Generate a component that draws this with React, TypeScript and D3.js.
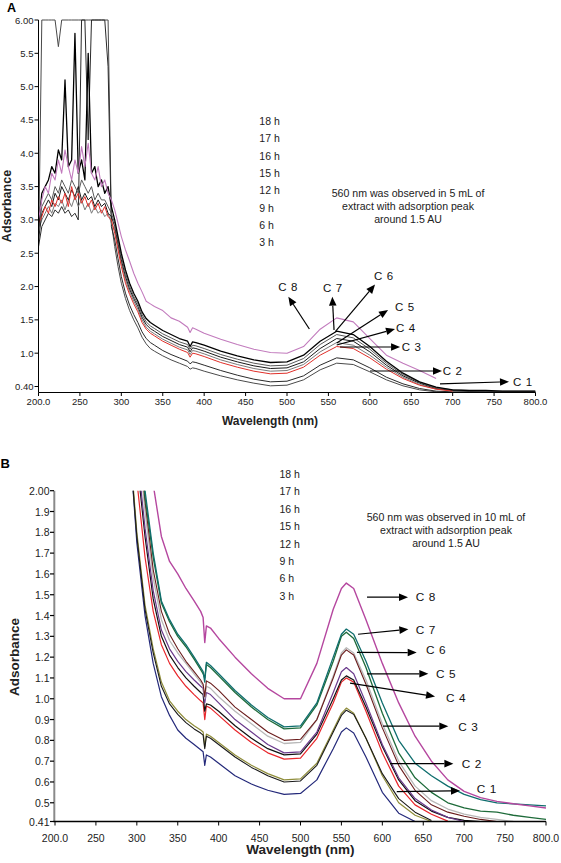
import React from 'react';
import * as d3 from 'd3';

// ---------------- Panel A data (5 mL extract) ----------------
const wavelengthsA = [200,204,208,212,216,220,224,228,232,236,240,244,248,252,256,260,264,268,272,276,280,284,288,
  292,296,300,305,310,315,320,325,330,335,340,
  350,360,370,380,383,386,390,
  400,420,440,460,480,500,520,540,560,580,600,620,640,660,680,700,720,740,760,780,800];

const c8A = [3.0,3.3,3.5,3.4,3.7,3.6,3.9,3.7,4.05,3.8,3.6,3.9,3.7,4.1,3.8,4.15,3.7,3.6,3.8,3.5,3.6,3.4,3.3,
  3.15,2.95,2.75,2.55,2.38,2.2,2.05,1.92,1.78,1.74,1.70,
  1.64,1.53,1.48,1.39,1.31,1.38,1.36,
  1.30,1.21,1.13,1.06,1.01,1.00,1.10,1.36,1.53,1.47,1.22,0.97,0.85,0.74,0.62];
const c7A = [2.9,3.4,3.5,3.6,3.8,3.7,4.05,3.9,5.1,3.8,3.9,5.8,3.7,3.9,3.6,5.5,3.7,3.8,3.5,3.6,3.4,3.5,3.2,
  3.0,2.75,2.5,2.25,2.05,1.9,1.78,1.62,1.52,1.46,1.42,
  1.34,1.28,1.22,1.18,1.10,1.17,1.16,
  1.12,1.03,0.96,0.90,0.86,0.87,0.97,1.18,1.33,1.28,1.10,0.88,0.70,0.57,0.49,0.45,0.44,0.44,0.43,0.43,0.43];
const c6A = [2.8,3.2,3.3,3.4,3.3,3.5,3.4,3.6,3.5,3.4,3.6,3.5,3.4,3.6,3.5,3.4,3.5,3.3,3.4,3.3,3.3,3.2,3.1,
  2.95,2.7,2.45,2.2,2.0,1.85,1.74,1.58,1.47,1.41,1.37,
  1.29,1.23,1.17,1.13,1.06,1.12,1.11,
  1.07,0.98,0.91,0.85,0.81,0.82,0.92,1.13,1.28,1.23,1.06,0.85,0.68,0.56,0.48,0.45,0.44,0.43,0.43,0.43,0.43];
const c5A = [2.7,3.1,3.2,3.3,3.2,3.4,3.3,3.5,3.4,3.3,3.45,3.35,3.5,3.3,3.4,3.3,3.35,3.2,3.3,3.2,3.25,3.1,3.05,
  2.9,2.65,2.4,2.15,1.96,1.82,1.7,1.54,1.43,1.37,1.33,
  1.25,1.19,1.13,1.09,1.02,1.08,1.07,
  1.03,0.94,0.87,0.81,0.77,0.78,0.87,1.07,1.22,1.18,1.02,0.82,0.66,0.55,0.47,0.44,0.43,0.43,0.42,0.42,0.42];
const c4A = [2.85,3.0,3.1,3.2,3.1,3.25,3.2,3.3,3.15,3.3,3.2,3.35,3.2,3.3,3.15,3.25,3.1,3.2,3.1,3.15,3.05,3.1,2.95,
  2.85,2.6,2.35,2.1,1.92,1.78,1.66,1.5,1.39,1.33,1.29,
  1.21,1.15,1.09,1.05,0.98,1.04,1.03,
  0.99,0.90,0.83,0.77,0.73,0.74,0.83,1.02,1.16,1.12,0.97,0.79,0.64,0.53,0.46,0.44,0.43,0.42,0.42,0.42,0.42];
const c3A = [2.95,3.05,3.2,3.1,3.3,3.2,3.35,3.25,3.4,3.2,3.5,3.3,3.4,3.25,3.35,3.2,3.3,3.15,3.25,3.1,3.2,3.05,3.0,
  2.8,2.55,2.3,2.05,1.88,1.74,1.62,1.46,1.36,1.30,1.26,
  1.18,1.12,1.06,1.01,0.94,1.0,0.99,
  0.95,0.86,0.79,0.73,0.69,0.70,0.79,0.97,1.10,1.07,0.93,0.76,0.62,0.52,0.46,0.43];
const c2A = [2.6,2.9,3.0,3.1,3.05,3.15,3.1,3.2,3.1,3.15,3.05,3.1,3.0,6.0,6.0,4.2,6.0,6.0,6.0,6.0,6.0,5.3,2.9,
  2.7,2.42,2.15,1.9,1.72,1.58,1.46,1.32,1.22,1.16,1.12,
  1.04,0.98,0.93,0.88,0.84,0.87,0.86,
  0.82,0.74,0.67,0.61,0.57,0.58,0.66,0.82,0.93,0.90,0.78,0.64,0.54,0.47,0.43,0.42,0.42,0.42,0.42,0.42,0.42];
const c1A = [2.5,6.0,6.0,6.0,6.0,6.0,5.6,6.0,6.0,6.0,6.0,6.0,6.0,6.0,6.0,6.0,6.0,6.0,6.0,6.0,6.0,6.0,2.95,
  2.6,2.3,2.05,1.82,1.64,1.5,1.38,1.24,1.14,1.07,1.03,
  0.96,0.90,0.85,0.80,0.76,0.78,0.77,
  0.73,0.66,0.60,0.55,0.51,0.52,0.60,0.75,0.85,0.83,0.72,0.60,0.51,0.45,0.42,0.41,0.41,0.41,0.41,0.41,0.41];

// ---------------- Panel B data (10 mL extract) ----------------
const wavelengthsB = [290,300,310,320,330,340,350,360,370,378,381,383,385,390,400,420,440,460,480,500,520,540,550,556,565,580,600,620,640,660,680,700,720,740,760,780,800];

const magentaB = [2.6,2.4,2.2,2.03,1.78,1.66,1.60,1.53,1.47,1.42,1.39,1.27,1.35,1.34,1.29,1.20,1.12,1.05,1.00,1.00,1.17,1.43,1.53,1.556,1.53,1.38,1.17,0.98,0.82,0.70,0.61,0.555,0.525,0.507,0.495,0.485,0.475];
const tealB = [3.0,2.5,2.0,1.70,1.47,1.38,1.31,1.26,1.20,1.15,1.13,1.08,1.175,1.16,1.12,1.04,0.97,0.91,0.865,0.87,0.98,1.20,1.31,1.335,1.31,1.18,0.98,0.80,0.69,0.63,0.58,0.54,0.515,0.50,0.495,0.49,0.485];
const greenB = [2.95,2.45,1.97,1.68,1.46,1.37,1.30,1.25,1.19,1.14,1.12,1.10,1.165,1.15,1.11,1.03,0.96,0.90,0.855,0.86,0.97,1.18,1.30,1.32,1.29,1.15,0.93,0.74,0.62,0.55,0.50,0.475,0.46,0.455,0.44,0.43,0.42];
const greyB = [2.7,2.3,1.9,1.58,1.38,1.28,1.22,1.17,1.12,1.08,1.06,1.00,1.06,1.05,1.01,0.94,0.88,0.82,0.785,0.79,0.90,1.11,1.22,1.245,1.22,1.09,0.88,0.70,0.58,0.51,0.47,0.445,0.43,0.42,0.41];
const brownB = [2.75,2.35,1.95,1.62,1.42,1.31,1.24,1.18,1.13,1.09,1.07,1.01,1.086,1.075,1.04,0.96,0.90,0.84,0.80,0.805,0.90,1.10,1.21,1.235,1.21,1.07,0.86,0.68,0.56,0.49,0.455,0.435,0.42,0.41];
const purpleB = [2.6,2.2,1.82,1.52,1.33,1.24,1.18,1.13,1.09,1.06,1.05,0.98,1.03,1.02,0.98,0.90,0.84,0.78,0.74,0.745,0.84,1.03,1.13,1.15,1.12,0.98,0.78,0.62,0.52,0.465,0.43,0.41];
const blackB = [2.55,2.15,1.78,1.48,1.30,1.21,1.15,1.10,1.06,1.03,1.02,0.94,0.975,0.97,0.94,0.87,0.81,0.76,0.73,0.735,0.83,1.00,1.09,1.11,1.09,0.96,0.77,0.61,0.51,0.46,0.43,0.415,0.41];
const redB = [2.5,2.05,1.68,1.42,1.26,1.17,1.11,1.06,1.02,0.99,0.98,0.90,0.965,0.955,0.92,0.85,0.79,0.74,0.71,0.715,0.81,0.98,1.08,1.10,1.08,0.94,0.74,0.58,0.49,0.445,0.412];
const oliveB = [2.3,1.8,1.45,1.24,1.08,0.99,0.94,0.90,0.87,0.85,0.84,0.77,0.83,0.82,0.79,0.73,0.68,0.64,0.61,0.615,0.69,0.85,0.93,0.955,0.93,0.81,0.63,0.50,0.44,0.41];
const black2B = [2.28,1.78,1.43,1.22,1.06,0.975,0.925,0.885,0.855,0.835,0.825,0.76,0.82,0.81,0.78,0.72,0.67,0.63,0.60,0.605,0.68,0.84,0.92,0.945,0.925,0.81,0.64,0.52,0.455,0.415];
const navyB = [2.3,1.75,1.40,1.17,1.01,0.92,0.85,0.81,0.78,0.755,0.745,0.68,0.73,0.72,0.69,0.63,0.59,0.56,0.54,0.545,0.61,0.76,0.84,0.86,0.835,0.72,0.55,0.45,0.41];

// ---------------- Axes / labels ----------------
const xTicks = [200,250,300,350,400,450,500,550,600,650,700,750,800];
const xTickLabels = ['200.0','250','300','350','400','450','500','550','600','650','700','750','800.0'];
const yTicksA = [0.5,1.0,1.5,2.0,2.5,3.0,3.5,4.0,4.5,5.0,5.5,6.0];
const yTickLabelsA = ['0.40','1.0','1.5','2.0','2.5','3.0','3.5','4.0','4.5','5.0','5.5','6.00'];
const yTicksB = [0.41,0.5,0.6,0.7,0.8,0.9,1.0,1.1,1.2,1.3,1.4,1.5,1.6,1.7,1.8,1.9,2.0];
const yTickLabelsB = ['0.41','0.5','0.6','0.7','0.8','0.9','1.0','1.1','1.2','1.3','1.4','1.5','1.6','1.7','1.8','1.9','2.00'];
const hourLabels = ['18 h','17 h','16 h','15 h','12 h','9 h','6 h','3 h'];
const noteA = ['560 nm was observed in 5 mL of','extract with adsorption peak','around 1.5 AU'];
const noteB = ['560 nm was observed in 10 mL of','extract with adsorption peak','around 1.5 AU'];

// arrow annotations, in data units: [tail wavelength, tail abs, head wavelength, head abs, text wavelength, text abs]
const arrowsA: [string, number[]][] = [
  ['C 8', [527, 1.363, 501.6, 1.848, 489.5, 1.989]],
  ['C 7', [556.8, 1.348, 554.7, 1.848, 543.5, 1.983]],
  ['C 6', [558.3, 1.322, 606.3, 2.03, 605, 2.158]],
  ['C 5', [560, 1.153, 622, 1.648, 630.4, 1.688]],
  ['C 4', [560, 1.123, 630.4, 1.363, 631.6, 1.382]],
  ['C 3', [564, 1.093, 636.5, 1.093, 638.5, 1.097]],
  ['C 2', [600.2, 0.733, 687.1, 0.733, 688, 0.737]],
  ['C 1', [684.7, 0.538, 768, 0.572, 772.9, 0.572]],
];
const arrowsB: [string, number[]][] = [
  ['C 8', [581.3, 1.488, 631.4, 1.488, 640.8, 1.488]],
  ['C 7', [570.3, 1.31, 631.8, 1.334, 640.8, 1.329]],
  ['C 6', [569, 1.223, 642, 1.222, 653.4, 1.233]],
  ['C 5', [581.3, 1.12, 656.2, 1.12, 665.6, 1.12]],
  ['C 4', [560.5, 1.075, 664.4, 1.011, 677.8, 1.005]],
  ['C 3', [600.8, 0.868, 680.6, 0.868, 692.8, 0.864]],
  ['C 2', [609.4, 0.688, 686.8, 0.688, 697, 0.688]],
  ['C 1', [617.6, 0.554, 694.9, 0.558, 715.3, 0.567]],
];

const FONT = "'Liberation Sans', Arial, Helvetica, sans-serif";

type Scale = d3.ScaleLinear<number, number>;

function Arrow({ x, y, a, label, fs }: { x: Scale; y: Scale; a: number[]; label: string; fs: number }) {
  const x1 = x(a[0]), y1 = y(a[1]), x2 = x(a[2]), y2 = y(a[3]);
  const dx = x2 - x1, dy = y2 - y1;
  const len = Math.hypot(dx, dy);
  const ux = dx / len, uy = dy / len;
  const L = 9, hw = 3.8;
  const bx = x2 - ux * L, by = y2 - uy * L;
  const pts = [[x2, y2], [bx - uy * hw, by + ux * hw], [bx + uy * hw, by - ux * hw]];
  return (
    <g>
      <line x1={x1} y1={y1} x2={bx} y2={by} stroke="#000" strokeWidth={1.2} />
      <polygon points={pts.map(p => p.join(',')).join(' ')} fill="#000" />
      <text x={x(a[4])} y={y(a[5])} fontSize={fs} dominantBaseline="central" fontFamily={FONT} fill="#111" letterSpacing={0.6}>{label}</text>
    </g>
  );
}

export default function App() {
  // Panel A scales
  const xA = d3.scaleLinear().domain([200, 800]).range([38.5, 535.5]);
  const yA = d3.scaleLinear().domain([0.41, 6.0]).range([392.5, 20]);
  // Panel B scales
  const xB = d3.scaleLinear().domain([200, 800]).range([55, 546]);
  const yB = d3.scaleLinear().domain([0.41, 2.0]).range([821.5, 490.7]);

  const mk = (x: Scale, y: Scale) => d3.line<[number, number]>().x(d => x(d[0])).y(d => y(d[1]));
  const lineA = mk(xA, yA);
  const lineB = mk(xB, yB);
  const zip = (wl: number[], vals: number[]) => vals.map((v, i) => [wl[i], v] as [number, number]);

  const seriesA = [
    { v: c1A, c: '#4a4a4a', w: 1 },
    { v: c2A, c: '#2a2a2a', w: 1 },
    { v: c4A, c: '#7a7a7a', w: 1 },
    { v: c5A, c: '#1a1a1a', w: 1 },
    { v: c6A, c: '#5a5a5a', w: 1 },
    { v: c3A, c: '#e0302a', w: 1 },
    { v: c7A, c: '#000000', w: 1.3 },
    { v: c8A, c: '#c27bbd', w: 1.1 },
  ];
  const seriesB = [
    { v: navyB, c: '#24297a', w: 1.2 },
    { v: oliveB, c: '#8f8d3a', w: 1.2 },
    { v: black2B, c: '#1a1a1a', w: 1.1 },
    { v: redB, c: '#e8262b', w: 1.2 },
    { v: blackB, c: '#111111', w: 1.2 },
    { v: purpleB, c: '#6b3a8c', w: 1.2 },
    { v: greyB, c: '#b8b8b8', w: 1.3 },
    { v: brownB, c: '#6a1c1c', w: 1.1 },
    { v: greenB, c: '#1e6b3a', w: 1.3 },
    { v: tealB, c: '#0f6e6e', w: 1.3 },
    { v: magentaB, c: '#b5479f', w: 1.4 },
  ];

  return (
    <svg width={561} height={863} style={{ position: 'absolute', left: 0, top: 0, background: '#fff' }} fontFamily={FONT}>
      <defs>
        <clipPath id="clipA"><rect x={38.5} y={18.5} width={497} height={374.5} /></clipPath>
        <clipPath id="clipB"><rect x={55} y={490.7} width={491} height={331} /></clipPath>
      </defs>
      <rect x={0} y={0} width={561} height={863} fill="#fff" />

      {/* ===== Panel A ===== */}
      <text x={7} y={12} fontSize={12.5} fontWeight="bold">A</text>
      <g clipPath="url(#clipA)" fill="none">
        {seriesA.map((s, i) => (
          <path key={i} d={lineA(zip(wavelengthsA, s.v)) || ''} stroke={s.c} strokeWidth={s.w} strokeLinejoin="round" />
        ))}
      </g>
      <line x1={xA(200)} y1={yA(6.0)} x2={xA(200)} y2={yA(0.41)} stroke="#000" strokeWidth={1} />
      <line x1={xA(200)} y1={yA(0.41)} x2={xA(800)} y2={yA(0.41)} stroke="#000" strokeWidth={1.2} />
      {yTicksA.map((t, i) => (
        <g key={i}>
          <line x1={xA(200) - 4} x2={xA(200)} y1={yA(t)} y2={yA(t)} stroke="#000" />
          <text x={xA(200) - 5} y={yA(t)} fontSize={9.5} textAnchor="end" dominantBaseline="central" fill="#222">{yTickLabelsA[i]}</text>
        </g>
      ))}
      {xTicks.map((t, i) => (
        <g key={i}>
          <line x1={xA(t)} x2={xA(t)} y1={yA(0.41)} y2={yA(0.41) + 3.5} stroke="#000" />
          <text x={xA(t)} y={401} fontSize={9.5} textAnchor="middle" dominantBaseline="central" fill="#222">{xTickLabels[i]}</text>
        </g>
      ))}
      <text x={270} y={425} fontSize={12} fontWeight="bold" textAnchor="middle" fill="#222">Wavelength (nm)</text>
      <text transform="translate(10.5,206) rotate(-90)" fontSize={12.5} fontWeight="bold" textAnchor="middle" fill="#222">Adsorbance</text>
      {hourLabels.map((h, i) => (
        <text key={i} x={259.3} y={121 + i * 17.3} fontSize={10.5} dominantBaseline="central" fill="#222">{h}</text>
      ))}
      {noteA.map((t, i) => (
        <text key={i} x={408} y={192.7 + i * 13.2} fontSize={10.6} textAnchor="middle" dominantBaseline="central" fill="#222">{t}</text>
      ))}
      {arrowsA.map(([lab, a]) => <Arrow key={lab} x={xA} y={yA} a={a} label={lab} fs={11.5} />)}

      {/* ===== Panel B ===== */}
      <text x={0.5} y={468.3} fontSize={13} fontWeight="bold">B</text>
      <g clipPath="url(#clipB)" fill="none">
        {seriesB.map((s, i) => (
          <path key={i} d={lineB(zip(wavelengthsB, s.v)) || ''} stroke={s.c} strokeWidth={s.w} strokeLinejoin="round" />
        ))}
      </g>
      <line x1={54.3} y1={yB(2.0)} x2={54.3} y2={yB(0.41)} stroke="#8a8a8a" strokeWidth={2} />
      <line x1={53.5} y1={yB(0.41)} x2={xB(800)} y2={yB(0.41)} stroke="#000" strokeWidth={1.3} />
      {yTicksB.map((t, i) => (
        <g key={i}>
          <line x1={50} x2={54} y1={yB(t)} y2={yB(t)} stroke="#000" strokeWidth={1.2} />
          <text x={49.5} y={yB(t)} fontSize={10.5} textAnchor="end" dominantBaseline="central" fill="#222">{yTickLabelsB[i]}</text>
        </g>
      ))}
      {xTicks.map((t, i) => (
        <g key={i}>
          <line x1={xB(t)} x2={xB(t)} y1={yB(0.41)} y2={yB(0.41) + 4} stroke="#000" />
          <text x={xB(t)} y={837.6} fontSize={10.5} textAnchor="middle" dominantBaseline="central" fill="#222">{xTickLabels[i]}</text>
        </g>
      ))}
      <text x={300.5} y={854} fontSize={13.5} fontWeight="bold" textAnchor="middle" fill="#222">Wavelength (nm)</text>
      <text transform="translate(19.3,657) rotate(-90)" fontSize={13.5} fontWeight="bold" textAnchor="middle" fill="#222">Adsorbance</text>
      {hourLabels.map((h, i) => (
        <text key={i} x={279.5} y={474 + i * 17.4} fontSize={10.5} dominantBaseline="central" fill="#222">{h}</text>
      ))}
      {noteB.map((t, i) => (
        <text key={i} x={446} y={517.3 + i * 12.7} fontSize={10.6} textAnchor="middle" dominantBaseline="central" fill="#222">{t}</text>
      ))}
      {arrowsB.map(([lab, a]) => <Arrow key={lab} x={xB} y={yB} a={a} label={lab} fs={11.8} />)}
    </svg>
  );
}
